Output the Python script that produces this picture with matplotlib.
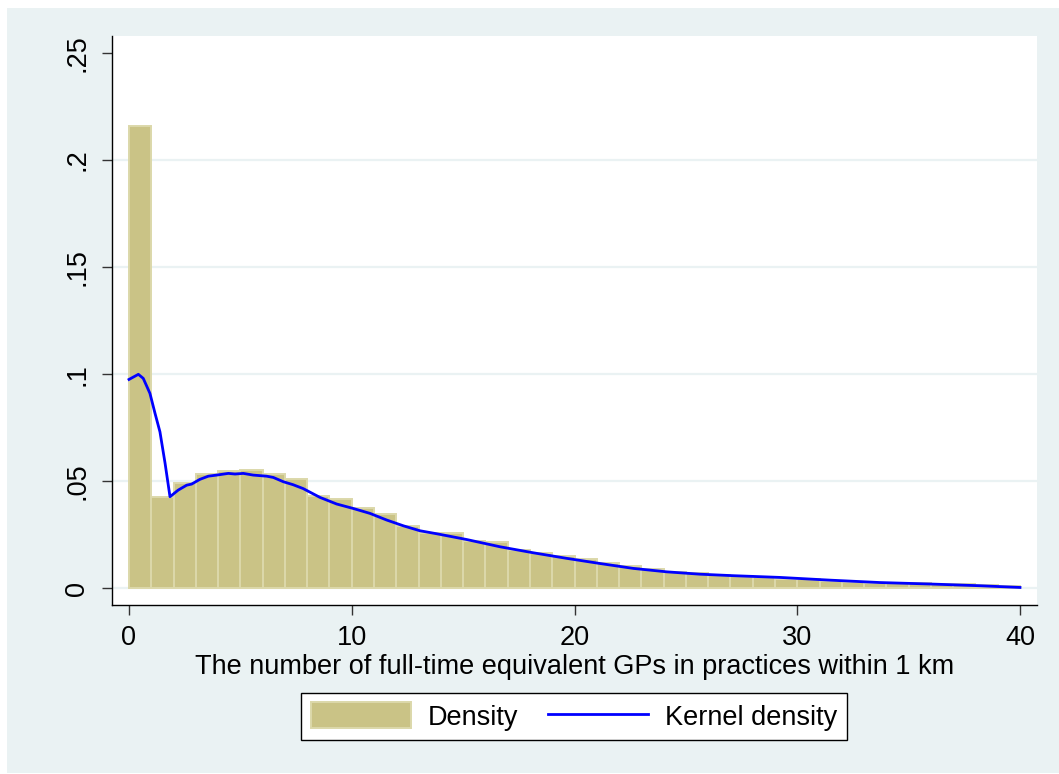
import numpy as np
import matplotlib
matplotlib.use('Agg')
import matplotlib.pyplot as plt
from matplotlib.patches import Rectangle

# histogram: bin edges (width 1) and densities
bin_left = list(range(0, 40))
bin_density = [0.2160, 0.0425, 0.0490, 0.0533, 0.0547, 0.0551, 0.0533, 0.0509, 0.0430, 0.0416,
               0.0374, 0.0346, 0.0290, 0.0256, 0.0256, 0.0222, 0.0216, 0.0178, 0.0162, 0.0152,
               0.0138, 0.0118, 0.0105, 0.0091, 0.0076, 0.0069, 0.0062, 0.0056, 0.0053, 0.0041,
               0.0041, 0.0034, 0.0030, 0.0026, 0.0023, 0.0022, 0.0019, 0.0017, 0.0014, 0.0011]

# kernel density curve
kde_x = [0, 0.42, 0.64, 0.94, 1.17, 1.39, 1.62, 1.84, 2.21, 2.59, 2.81, 3.18, 3.56, 3.93,
         4.46, 4.76, 5.13, 5.58, 6.18, 6.48, 6.93, 7.37, 7.82, 8.57, 9.32, 10.07, 10.82,
         11.57, 12.32, 13.06, 13.81, 15.16, 16.66, 18.15, 19.65, 21.14, 22.64, 24.14,
         25.63, 27.13, 29.2, 31.5, 33.7, 36.0, 38.2, 40]
kde_y = [0.0975, 0.0999, 0.0980, 0.0910, 0.0816, 0.0730, 0.0583, 0.0427, 0.0458, 0.0481,
         0.0486, 0.0508, 0.0523, 0.0528, 0.0536, 0.0533, 0.0536, 0.0528, 0.0523, 0.0517,
         0.0497, 0.0483, 0.0465, 0.0424, 0.0393, 0.0372, 0.0349, 0.0318, 0.0291, 0.0268,
         0.0254, 0.0227, 0.0193, 0.0165, 0.0139, 0.0115, 0.0092, 0.0076, 0.0065, 0.0058,
         0.0050, 0.0037, 0.0026, 0.0019, 0.0011, 0.0003]

y_ticks = [0, 0.05, 0.10, 0.15, 0.20, 0.25]
y_ticklabels = ['0', '.05', '.1', '.15', '.2', '.25']
x_ticks = [0, 10, 20, 30, 40]

plt.rcParams['font.family'] = ['Liberation Sans', 'DejaVu Sans']
fs = 19.5
bg = '#EAF2F3'

fig = plt.figure(figsize=(10.59, 7.74), dpi=100)
fig.patch.set_facecolor('white')
fig.patches.append(Rectangle((7 / 1059, 1.5 / 774), 1, (774 - 9.5) / 774,
                             transform=fig.transFigure, facecolor=bg, edgecolor='none', zorder=-10))

ax = fig.add_axes([112 / 1059, (774 - 605) / 774, 925 / 1059, 569 / 774])
ax.set_facecolor('white')

for yv in y_ticks[:-1]:
    ax.axhline(yv, color=bg, lw=1.6, zorder=0)

bars = ax.bar(bin_left, bin_density, width=1, align='edge', color='#CAC386',
              edgecolor='#DCD8AA', linewidth=1.4, zorder=2, label='Density')
line, = ax.plot(kde_x, kde_y, color='#0000FF', lw=2.0, zorder=3, label='Kernel density')

ax.set_xlim(-0.763, 40.763)
ax.set_ylim(-0.0079, 0.258)
ax.set_xticks(x_ticks)
ax.set_xticklabels([str(v) for v in x_ticks])
ax.set_yticks(y_ticks)
ax.set_yticklabels(y_ticklabels, rotation=90, va='center')
ax.tick_params(axis='both', labelsize=fs, length=7.5, width=1, color='#333333', direction='out')
ax.tick_params(axis='x', pad=7)
ax.tick_params(axis='y', pad=8)

for side in ['top', 'right']:
    ax.spines[side].set_visible(False)
for side in ['left', 'bottom']:
    ax.spines[side].set_color('black')
    ax.spines[side].set_linewidth(1.0)

ax.set_xlabel('The number of full-time equivalent GPs in practices within 1 km', fontsize=fs, labelpad=2)

leg = fig.legend([bars, line], ['Density', 'Kernel density'], loc='center',
                 bbox_to_anchor=(574 / 1059, 1 - 716.5 / 774), ncol=2,
                 fontsize=fs, frameon=True, fancybox=False, edgecolor='black', framealpha=1,
                 handlelength=3.7, handleheight=1.1, handletextpad=0.62, columnspacing=1.1,
                 borderpad=0.35)
leg.get_frame().set_linewidth(1.0)

fig.savefig('out.png', dpi=100, facecolor=fig.get_facecolor())
